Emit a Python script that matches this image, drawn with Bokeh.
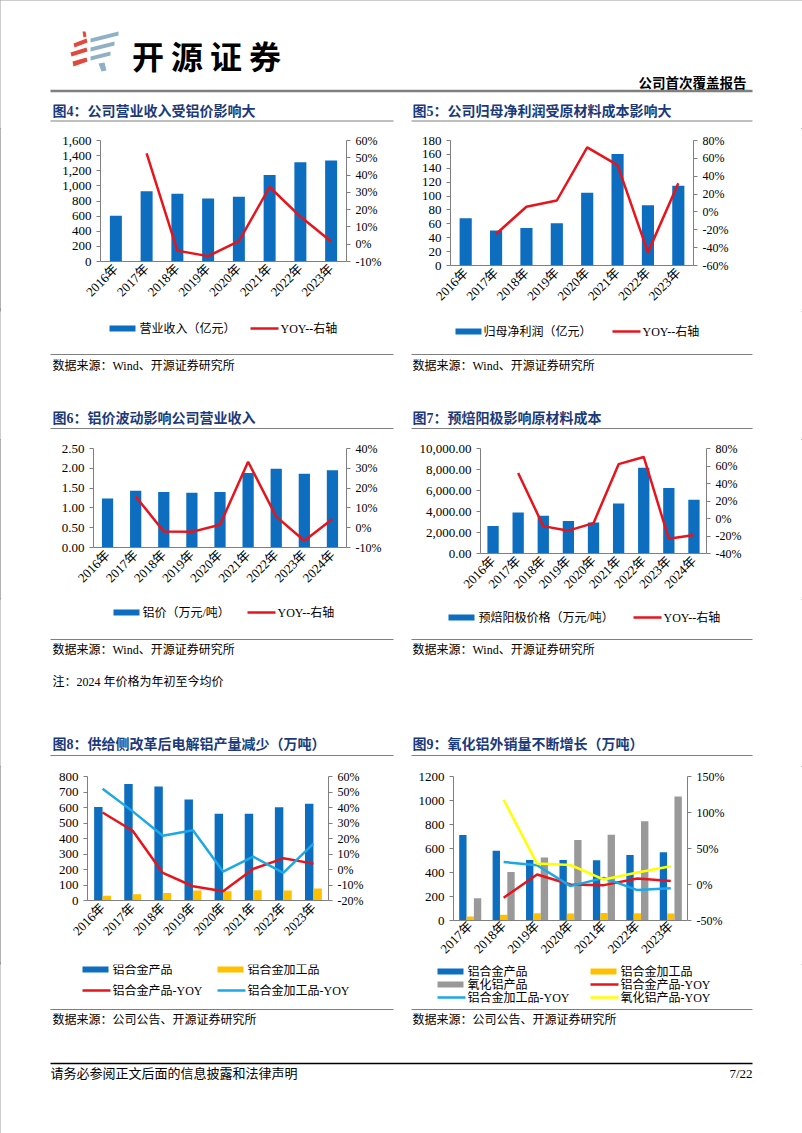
import math
from bokeh.plotting import figure
from bokeh.models import (Range1d, FactorRange, LinearAxis, FixedTicker,
                          NumeralTickFormatter, ColumnDataSource)
from bokeh.layouts import column, row
from bokeh.core.properties import value
from bokeh.transform import dodge
from bokeh.embed import file_html
from bokeh.resources import INLINE

SERIF = "Liberation Serif, Noto Sans CJK SC"
CJK = "Noto Sans CJK SC"
NAVY = "#1B3A7A"
BLUE = "#0D6EBF"
RED = "#E8141B"
GOLD = "#FFC000"
CYAN = "#1BA8E6"
GRAY = "#999999"
YEL = "#FFFF00"
AX = "#7F7F7F"

# ---------------- data ----------------
years_16_23 = ["2016年", "2017年", "2018年", "2019年", "2020年", "2021年", "2022年", "2023年"]
years_16_24 = years_16_23 + ["2024年"]
years_17_23 = years_16_23[1:]

revenue = [605, 928, 896, 834, 856, 1143, 1313, 1336]
revenue_yoy = [0.525, -0.037, -0.069, 0.018, 0.331, 0.16, 0.016]          # 2017-2023

net_profit = [68, 50.5, 53.9, 60.9, 104.9, 160.6, 86.9, 114.8]
net_profit_yoy = [-0.247, 0.058, 0.128, 0.723, 0.525, -0.453, 0.322]       # 2017-2023

al_price = [1.24, 1.43, 1.40, 1.38, 1.40, 1.88, 1.99, 1.86, 1.95]
al_price_yoy = [0.158, -0.019, -0.021, 0.015, 0.333, 0.056, -0.066, 0.044]  # 2017-2024

anode_price = [2609, 3913, 3602, 3106, 2950, 4752, 8168, 6242, 5124]
anode_yoy = [0.521, -0.087, -0.139, -0.053, 0.621, 0.703, -0.232, -0.188]   # 2017-2024

alloy_output = [603, 751, 736, 652, 560, 560, 601, 624]
alloy_proc_output = [30, 41, 49, 64, 60, 66, 64, 77]
alloy_output_yoy = [0.368, 0.25, -0.022, -0.108, -0.14, 0.004, 0.072, 0.038]
alloy_proc_output_yoy = [0.521, 0.375, 0.218, 0.253, -0.013, 0.083, -0.022, 0.167]

alloy_sales = [712, 582, 505, 505, 502, 546, 568]
alloy_proc_sales = [33, 47, 61, 58, 63, 61, 58]
alumina_sales = [185, 405, 524, 670, 714, 828, 1034]
alloy_sales_yoy = [-0.184, 0.138, 0.0, -0.009, 0.083, 0.05]                # 2018-2023
alloy_proc_sales_yoy = [0.313, 0.267, -0.023, 0.092, -0.078, -0.051]
alumina_sales_yoy = [1.177, 0.29, 0.271, 0.069, 0.166, 0.253]

titles = ["图4：公司营业收入受铝价影响大", "图5：公司归母净利润受原材料成本影响大",
          "图6：铝价波动影响公司营业收入", "图7：预焙阳极影响原材料成本",
          "图8：供给侧改革后电解铝产量减少（万吨）", "图9：氧化铝外销量不断增长（万吨）"]
legend4 = ["营业收入（亿元）", "YOY--右轴"]
legend5 = ["归母净利润（亿元）", "YOY--右轴"]
legend6 = ["铝价（万元/吨）", "YOY--右轴"]
legend7 = ["预焙阳极价格（万元/吨）", "YOY--右轴"]
legend8 = ["铝合金产品", "铝合金加工品", "铝合金产品-YOY", "铝合金加工品-YOY"]
legend9 = ["铝合金产品", "铝合金加工品", "氧化铝产品", "铝合金产品-YOY", "铝合金加工品-YOY", "氧化铝产品-YOY"]
src_wind = "数据来源：Wind、开源证券研究所"
src_company = "数据来源：公司公告、开源证券研究所"
note_text = "注：2024 年价格为年初至今均价"
footer_text = "请务必参阅正文后面的信息披露和法律声明"
page_no = "7/22"
report_type = "公司首次覆盖报告"
brand = ["开", "源", "证", "券"]


# ---------------- helpers ----------------
def strip(y0, y1):
    p = figure(width=802, height=y1 - y0, x_range=Range1d(0, 802), y_range=Range1d(y1, y0),
               x_axis_type=None, y_axis_type=None, min_border=0, toolbar_location=None,
               output_backend="svg")
    p.grid.visible = False
    p.outline_line_color = None
    return p


def txt(p, x, y, s, size, color="black", bold=False, align="left", font=SERIF):
    p.text(x=[x], y=[y], text=[s], text_font=value(font), text_font_size=value(f"{size}px"),
           text_color=color, text_font_style="bold" if bold else "normal",
           text_align=align, text_baseline="middle")


def hline(p, y, xs, color=AX, w=1.0):
    p.segment(x0=[a for a, b in xs], y0=[y] * len(xs), x1=[b for a, b in xs], y1=[y] * len(xs),
              line_color=color, line_width=w)


def key(p, kind, color, x, y, label, w=26, gap=4):
    """one legend entry: swatch / line key followed by its label"""
    if kind == "bar":
        p.quad(left=[x], right=[x + w], top=[y - 3], bottom=[y + 3], fill_color=color, line_color=None)
    else:
        p.segment(x0=[x], y0=[y], x1=[x + w + 2], y1=[y], line_color=color, line_width=2.5)
    txt(p, x + w + gap, y, label, 12)


def style_axis(ax, size):
    ax.axis_line_color = AX
    ax.major_tick_line_color = AX
    ax.major_tick_in = 0
    ax.major_tick_out = 4
    ax.minor_tick_line_color = None
    ax.major_label_text_font = SERIF
    ax.major_label_text_font_size = f"{size}px"
    ax.major_label_text_color = "black"


def ticks(lo, hi, step):
    n = int(round((hi - lo) / step)) + 1
    return [round(lo + i * step, 6) for i in range(n)]


def chart(cats, fw, fh, border, yl, yl_step, yl_fmt, yr, yr_step, standoff=5):
    p = figure(x_range=FactorRange(factors=cats, range_padding=0), y_range=Range1d(*yl),
               frame_width=fw, frame_height=fh,
               min_border_left=border[0], min_border_top=border[1],
               min_border_right=border[2], min_border_bottom=border[3],
               toolbar_location=None, output_backend="svg")
    p.grid.visible = False
    p.outline_line_color = None
    p.yaxis[0].ticker = FixedTicker(ticks=ticks(yl[0], yl[1], yl_step))
    p.yaxis[0].formatter = NumeralTickFormatter(format=yl_fmt)
    style_axis(p.yaxis[0], 13)
    p.extra_y_ranges = {"r": Range1d(*yr)}
    rax = LinearAxis(y_range_name="r", ticker=FixedTicker(ticks=ticks(yr[0], yr[1], yr_step)),
                     formatter=NumeralTickFormatter(format="0%"))
    style_axis(rax, 12)
    p.add_layout(rax, "right")
    xa = p.xaxis[0]
    style_axis(xa, 13)
    xa.major_tick_line_color = None
    xa.major_tick_out = 0
    xa.major_label_standoff = standoff
    xa.major_label_orientation = math.pi / 4
    return p


# ---------------- header strip (page y 0-128) ----------------
s0 = strip(0, 128)
s0.patches(xs=[[82, 85, 86, 83], [73, 86, 87, 74], [70, 86, 87, 71], [72, 86, 87, 73]],
           ys=[[31, 31, 36, 37], [43, 38, 42, 47], [52, 47, 51, 56], [61, 57, 61, 66]],
           fill_color="#E04A3C", line_color=None)
s0.patches(xs=[[90, 118, 118, 90], [90, 114, 114, 90], [90, 110, 110, 90], [98, 104, 106, 101]],
           ys=[[38, 31, 35, 42], [47, 41, 45, 51], [56, 51, 55, 60], [63, 62, 70, 71]],
           fill_color="#8FB0C6", line_color=None)
for i, ch in enumerate(brand):
    txt(s0, 147.5 + 39 * i, 54, ch, 32, bold=True, align="center", font=CJK)
txt(s0, 746, 83, report_type, 13.5, bold=True, align="right")
hline(s0, 90.5, [(50, 752)], color="#808080", w=2.5)
txt(s0, 52, 111, titles[0], 14, color=NAVY, bold=True)
txt(s0, 412, 111, titles[1], 14, color=NAVY, bold=True)
hline(s0, 120.5, [(50, 393), (411, 752)])

# ---------------- row A: charts 4 and 5 (page y 128-308) ----------------
c4 = chart(years_16_23, 246, 121, (100, 12, 55, 47), (0, 1600), 200, "0,0", (-0.10, 0.60), 0.10)
c4.vbar(x=years_16_23, top=revenue, width=0.39, fill_color=BLUE, line_color=None)
c4.line(x=years_17_23, y=revenue_yoy, y_range_name="r", line_color=RED, line_width=2.5)

c5 = chart(years_16_23, 243, 125, (49, 12, 109, 43), (0, 180), 20, "0", (-0.60, 0.80), 0.20)
c5.vbar(x=years_16_23, top=net_profit, width=0.40, fill_color=BLUE, line_color=None)
c5.line(x=years_17_23, y=net_profit_yoy, y_range_name="r", line_color=RED, line_width=2.5)

# ---------------- strip 1 (page y 308-436) ----------------
s1 = strip(308, 436)
key(s1, "bar", BLUE, 109, 325, legend4[0])
key(s1, "line", RED, 250, 325, legend4[1])
key(s1, "bar", BLUE, 455, 328, legend5[0], gap=2)
key(s1, "line", RED, 612, 328, legend5[1])
hline(s1, 351, [(50, 393), (411, 752)])
txt(s1, 52, 362, src_wind, 12)
txt(s1, 412, 362, src_wind, 12)
txt(s1, 52, 414.5, titles[2], 14, color=NAVY, bold=True)
txt(s1, 412, 414.5, titles[3], 14, color=NAVY, bold=True)
hline(s1, 425, [(50, 393), (411, 752)])

# ---------------- row B: charts 6 and 7 (page y 436-595) ----------------
c6 = chart(years_16_24, 253, 99, (93, 9, 55, 51), (0, 2.5), 0.5, "0.00", (-0.10, 0.40), 0.10)
c6.vbar(x=years_16_24, top=al_price, width=0.40, fill_color=BLUE, line_color=None)
c6.line(x=years_16_24[1:], y=al_price_yoy, y_range_name="r", line_color=RED, line_width=2.5)

c7 = chart(years_16_24, 226, 105, (79, 9, 96, 45), (0, 10000), 2000, "0,0.00", (-0.40, 0.80), 0.20)
c7.vbar(x=years_16_24, top=anode_price, width=0.45, fill_color=BLUE, line_color=None)
c7.line(x=years_16_24[1:], y=anode_yoy, y_range_name="r", line_color=RED, line_width=2.5)

# ---------------- strip 2 (page y 595-762) ----------------
s2 = strip(595, 762)
key(s2, "bar", BLUE, 113, 608, legend6[0], gap=3)
key(s2, "line", RED, 247, 608, legend6[1])
key(s2, "bar", BLUE, 448, 613, legend7[0])
key(s2, "line", RED, 633, 613, legend7[1])
hline(s2, 635, [(50, 393), (411, 752)])
txt(s2, 52, 645.5, src_wind, 12)
txt(s2, 412, 645.5, src_wind, 12)
txt(s2, 52, 677.5, note_text, 12)
txt(s2, 52, 740, titles[4], 14, color=NAVY, bold=True)
txt(s2, 412, 740, titles[5], 14, color=NAVY, bold=True)
hline(s2, 751, [(50, 393), (411, 752)])

# ---------------- row C: charts 8 and 9 (page y 762-958) ----------------
c8 = chart(years_16_23, 241, 124, (87, 10, 73, 62), (0, 800), 100, "0", (-0.20, 0.60), 0.10)
src8 = ColumnDataSource(dict(x=years_16_23, a=alloy_output, b=alloy_proc_output))
c8.vbar(x=dodge("x", -0.14, range=c8.x_range), top="a", width=0.28, source=src8,
        fill_color=BLUE, line_color=None)
c8.vbar(x=dodge("x", 0.14, range=c8.x_range), top="b", width=0.28, source=src8,
        fill_color=GOLD, line_color=None)
c8.line(x=years_16_23, y=alloy_output_yoy, y_range_name="r", line_color=RED, line_width=2.5)
c8.line(x=years_16_23, y=alloy_proc_output_yoy, y_range_name="r", line_color=CYAN, line_width=2.5)

c9 = chart(years_17_23, 234, 144, (52, 10, 115, 42), (0, 1200), 200, "0", (-0.50, 1.50), 0.50,
           standoff=3)
src9 = ColumnDataSource(dict(x=years_17_23, a=alloy_sales, b=alloy_proc_sales, c=alumina_sales))
c9.vbar(x=dodge("x", -0.22, range=c9.x_range), top="a", width=0.22, source=src9,
        fill_color=BLUE, line_color=None)
c9.vbar(x=dodge("x", 0.0, range=c9.x_range), top="b", width=0.22, source=src9,
        fill_color=GOLD, line_color=None)
c9.vbar(x=dodge("x", 0.22, range=c9.x_range), top="c", width=0.22, source=src9,
        fill_color=GRAY, line_color=None)
c9.line(x=years_17_23[1:], y=alloy_sales_yoy, y_range_name="r", line_color=RED, line_width=2.5)
c9.line(x=years_17_23[1:], y=alloy_proc_sales_yoy, y_range_name="r", line_color=CYAN, line_width=2.5)
c9.line(x=years_17_23[1:], y=alumina_sales_yoy, y_range_name="r", line_color=YEL, line_width=2.5)

# ---------------- strip 3 (page y 958-1133) ----------------
s3 = strip(958, 1133)
key(s3, "bar", BLUE, 82, 963, legend8[0])
key(s3, "bar", GOLD, 217, 963, legend8[1])
key(s3, "line", RED, 82, 984, legend8[2])
key(s3, "line", CYAN, 217, 984, legend8[3])
key(s3, "bar", BLUE, 437, 965, legend9[0])
key(s3, "bar", GOLD, 590, 965, legend9[1])
key(s3, "bar", GRAY, 437, 978, legend9[2])
key(s3, "line", RED, 590, 978, legend9[3])
key(s3, "line", CYAN, 437, 991, legend9[4])
key(s3, "line", YEL, 590, 991, legend9[5])
hline(s3, 1003, [(50, 393), (411, 752)])
txt(s3, 52, 1013.5, src_company, 12)
txt(s3, 412, 1013.5, src_company, 12)
hline(s3, 1057, [(50, 752)], color="black", w=1.5)
txt(s3, 50, 1067, footer_text, 13)
txt(s3, 752, 1067, page_no, 13, align="right")

page = column(s0, row(c4, c5), s1, row(c6, c7), s2, row(c8, c9), s3,
              styles={"outline": "1px solid #9a9a9a", "outline-offset": "-1px"})

open("out.html", "w").write(file_html(page, INLINE))
